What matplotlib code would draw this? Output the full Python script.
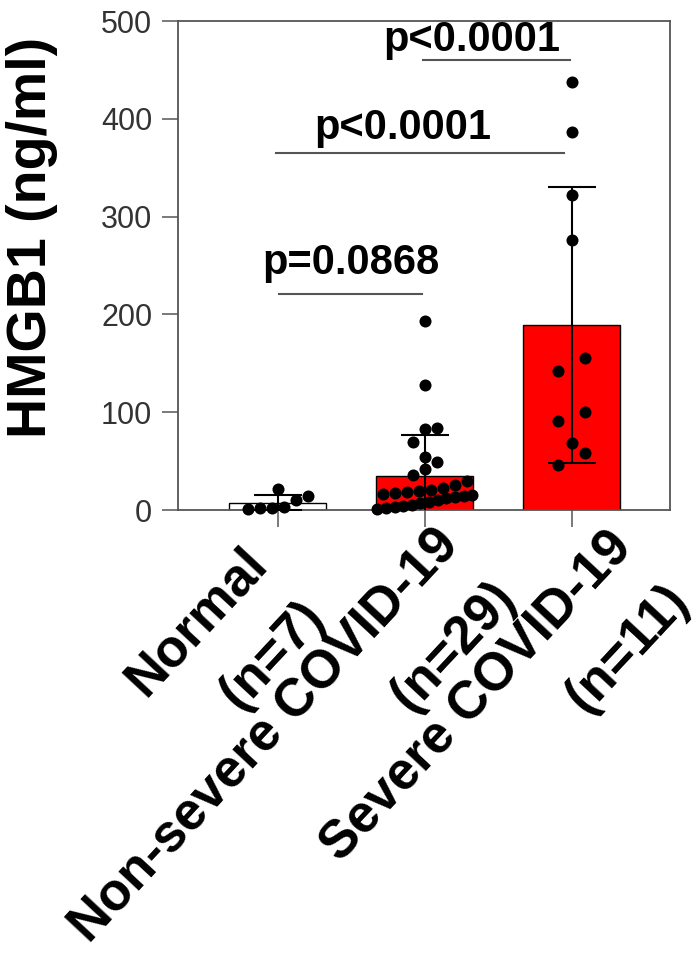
import matplotlib
matplotlib.use("Agg")
import matplotlib.pyplot as plt
import numpy as np
from matplotlib.transforms import ScaledTranslation

plt.rcParams["font.family"] = ["Liberation Sans", "DejaVu Sans"]

# --- values (ng/ml) ---
GROUPS = ["Normal\n(n=7)", "Non-severe COVID-19\n(n=29)", "Severe COVID-19\n(n=11)"]
NORMAL = [14, 1, 21, 2, 10, 2, 3]
NONSEVERE = [193, 128, 84, 83, 70, 54, 49, 42, 36, 30, 26, 22, 20, 19, 18, 17, 16,
             15, 14, 13, 12, 10, 8, 7, 5, 4, 3, 2, 1]
SEVERE = [438, 386, 322, 276, 155, 142, 100, 91, 69, 58, 46]
PVALS = ["p=0.0868", "p<0.0001", "p<0.0001"]

# brackets: (x from, x to, line y, label x, label baseline y)
BRACKETS = [(0.01, 0.98, 221, 0.50, 241),
            (-0.01, 1.95, 365, 0.85, 379),
            (0.99, 1.99, 460, 1.32, 469)]

W, H, DPI = 693, 977, 100
AX_L, AX_R, AX_T, AX_B = 178, 670, 21, 510
XLIM, YLIM = (-0.68, 2.67), (0, 500)
DOT_PX = 12
PAIR_PX = [12, 12, 27]   # horizontal dot spacing per column (style)
ROW_MAX_PX = 95
BAR_COLORS = ["white", "#ff0000", "#ff0000"]
XLAB_SHIFT = [(-37, 12), (8, -7), (34, -4)]   # px nudges (right, down) of rotated labels


def rows_offsets(vals, sx, sy, pair_px):
    """Prism-like spread: group close values in rows, spread each row horizontally."""
    vals = np.asarray(vals, float)
    order = np.argsort(vals)
    offs = np.zeros(len(vals))
    rows, cur = [], [order[0]]
    for i in order[1:]:
        if (vals[i] - vals[cur[0]]) * sy < DOT_PX * 1.15:
            cur.append(i)
        else:
            rows.append(cur); cur = [i]
    rows.append(cur)
    for r in rows:
        n = len(r)
        if n == 1:
            continue
        sp = min(pair_px, ROW_MAX_PX / (n - 1))
        for j, i in enumerate(r):
            offs[i] = (j - (n - 1) / 2) * sp / sx
    return offs


fig = plt.figure(figsize=(W / DPI, H / DPI), dpi=DPI)
ax = fig.add_axes([AX_L / W, 1 - AX_B / H, (AX_R - AX_L) / W, (AX_B - AX_T) / H])
ax.set_xlim(*XLIM); ax.set_ylim(*YLIM)
sx = (AX_R - AX_L) / (XLIM[1] - XLIM[0])
sy = (AX_B - AX_T) / (YLIM[1] - YLIM[0])

data = [NORMAL, NONSEVERE, SEVERE]
x = np.arange(len(data))
means = [np.mean(d) for d in data]
sds = [np.std(d, ddof=1) for d in data]

ax.bar(x, means, width=0.66, color=BAR_COLORS, edgecolor="black", linewidth=1, zorder=2)
ax.errorbar(x, means, yerr=sds, fmt="none", ecolor="black", elinewidth=1.5,
            capsize=17.6, capthick=1.5, zorder=3)
for i, d in enumerate(data):
    ax.scatter(i + rows_offsets(d, sx, sy, PAIR_PX[i]), d, s=75, color="black",
               zorder=4, clip_on=False, linewidths=0)

for (x1, x2, ly, tx, ty), lab in zip(BRACKETS, PVALS):
    ax.plot([x1, x2], [ly, ly], color="#555555", lw=1.5, clip_on=False)
    ax.text(tx, ty, lab, ha="center", va="baseline", fontsize=30, fontweight="bold")

for s in ax.spines.values():
    s.set_color("#555555"); s.set_linewidth(1.3)
ax.set_yticks(range(0, 501, 100))
ax.tick_params(axis="y", length=11.5, width=1.1, color="#555555", pad=7,
               labelsize=22, labelcolor="#333333")
ax.tick_params(axis="x", length=12, width=1.1, color="#555555", pad=0)
ax.set_xticks(x)
ax.set_xticklabels(GROUPS, rotation=47, ha="right", va="top", rotation_mode="anchor",
                   fontsize=38, fontweight="bold", multialignment="right", linespacing=1.7)
for lab, (dx, dy) in zip(ax.get_xticklabels(), XLAB_SHIFT):
    lab.set_transform(lab.get_transform() + ScaledTranslation(dx / DPI, -dy / DPI, fig.dpi_scale_trans))

fig.text(32 / W, 1 - 237 / H, "HMGB1 (ng/ml)", rotation=90, fontsize=40,
         fontweight="bold", ha="center", va="center")

fig.savefig("out.png", dpi=DPI)
